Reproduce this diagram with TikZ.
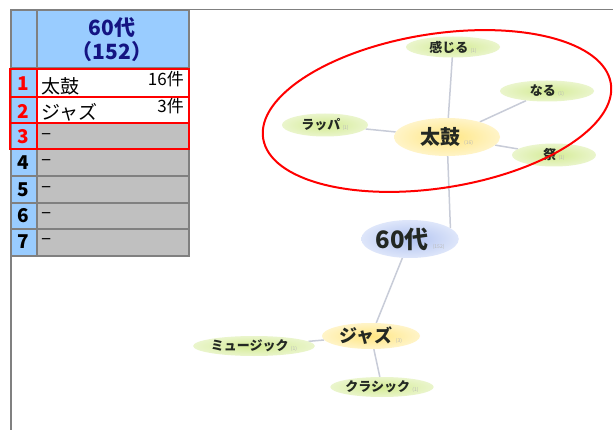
\documentclass[tikz,border=0pt]{standalone}
\usepackage{fontspec}
\setmainfont{Noto Sans CJK JP}
\usetikzlibrary{shapes.geometric}
\pgfdeclarelayer{bg}
\pgfsetlayers{bg,main}
\definecolor{hdrblue}{RGB}{153,204,255}
\definecolor{cellgray}{RGB}{192,192,192}
\definecolor{gridgray}{RGB}{128,128,128}
\definecolor{navy}{RGB}{20,20,130}
\definecolor{edgec}{RGB}{200,204,216}
\definecolor{gin}{RGB}{212,235,148}
\definecolor{gout}{RGB}{234,245,204}
\definecolor{yin}{RGB}{255,230,130}
\definecolor{yout}{RGB}{255,244,200}
\definecolor{bin}{RGB}{176,194,240}
\definecolor{bout}{RGB}{222,230,250}
\definecolor{nodetext}{RGB}{35,40,35}
\definecolor{cnt}{RGB}{185,185,185}
\begin{document}
\begin{tikzpicture}[x=1pt,y=-1pt,
  grid/.style={draw=gridgray,line width=1.5pt},
  redbox/.style={draw=red,line width=1.6pt},
  numtxt/.style={font=\bfseries\fontsize{19}{19}\selectfont,inner sep=0pt},
  celltxt/.style={font=\fontsize{19}{19}\selectfont,inner sep=0pt,anchor=west},
  cnttxt/.style={font=\fontsize{17}{17}\selectfont,inner sep=0pt,anchor=north east},
  leaf/.style={ellipse,inner color=gin,outer color=gout,minimum width=88pt,minimum height=21pt,inner sep=0pt,
     font=\bfseries\fontsize{13}{13}\selectfont,text=nodetext},
  mid/.style={ellipse,inner color=yin,outer color=yout,minimum width=100pt,minimum height=36pt,inner sep=0pt,
     font=\bfseries\fontsize{20}{20}\selectfont,text=nodetext},
  rootn/.style={ellipse,inner color=bin,outer color=bout,minimum width=90pt,minimum height=38pt,inner sep=0pt,
     font=\bfseries\fontsize{24}{24}\selectfont,text=nodetext},
  link/.style={draw=edgec,line width=1.5pt}]
\newcommand{\cntt}[1]{\,{\fontsize{5}{5}\selectfont\mdseries\color{cnt}(#1)}}
\useasboundingbox (0,0) rectangle (613,430);
\begin{pgfonlayer}{bg}
\fill[white] (0,0) rectangle (613,430);
\end{pgfonlayer}
% outer frame
\draw[grid] (11,430) -- (11,9.5) -- (613,9.5);
% table fills
\fill[hdrblue] (11,10) rectangle (189,68);
\fill[hdrblue] (11,68) rectangle (37,256);
\fill[white] (37,68) rectangle (189,123);
\fill[cellgray] (37,123) rectangle (189,256);
% grid lines
\draw[grid] (11,10) rectangle (189,256);
\draw[grid] (37,10) -- (37,256);
\foreach \yy in {68,97,123,149,176,203,229} \draw[grid] (11,\yy) -- (189,\yy);
% red boxes rows 1-3
\draw[redbox] (10,69) rectangle (189,97);
\draw[redbox] (10,97) rectangle (189,123);
\draw[redbox] (10,123) rectangle (189,149);
\draw[redbox] (37,69) -- (37,149);
% header
\node[font=\bfseries\fontsize{21}{24}\selectfont,text=navy,align=center] (hdr) at (112,40) {60代\\（152）};
% row numbers
\node[numtxt,text=red] (n1) at (23,84) {1};
\node[numtxt,text=red] (n2) at (23,111) {2};
\node[numtxt,text=red] (n3) at (23,137) {3};
\node[numtxt] (n4) at (23,163) {4};
\node[numtxt] (n5) at (23,190) {5};
\node[numtxt] (n6) at (23,216) {6};
\node[numtxt] (n7) at (23,242) {7};
% cells
\node[celltxt] (c1) at (41,86) {太鼓};
\node[cnttxt] (k1) at (184,71) {16件};
\node[celltxt] (c2) at (41,112) {ジャズ};
\node[cnttxt] (k2) at (184,98) {3件};
\node[celltxt] (c3) at (41,137) {–};
\node[celltxt] (c4) at (41,163) {–};
\node[celltxt] (c5) at (41,190) {–};
\node[celltxt] (c6) at (41,216) {–};
\node[celltxt] (c7) at (41,242) {–};
% mind map nodes
\node[rootn] (root) at (410,239) {60代\cntt{152}};
\node[mid,minimum width=106pt,minimum height=38pt] (taiko) at (447,137) {太鼓\cntt{16}};
\node[mid,minimum width=98pt,minimum height=26pt,font=\bfseries\fontsize{18}{18}\selectfont] (jazz) at (371,336) {ジャズ\cntt{3}};
\node[leaf,minimum width=94pt] (kanjiru) at (453,47) {感じる\cntt{1}};
\node[leaf,minimum width=94pt] (naru) at (547,91) {なる\cntt{1}};
\node[leaf,minimum width=84pt,minimum height=23pt] (matsuri) at (554,155) {祭\cntt{1}};
\node[leaf,minimum width=86pt,minimum height=23pt] (rappa) at (325,125) {ラッパ\cntt{1}};
\node[leaf,minimum width=100pt,minimum height=20pt] (music) at (254,346) {ミュージック\cntt{1}};
\node[leaf,minimum width=92pt,minimum height=20pt] (classic) at (382,387) {クラシック\cntt{1}};
% connectors (behind nodes)
\begin{pgfonlayer}{bg}
\draw[link] (taiko.center) -- (root.15);
\draw[link] (taiko.center) -- (kanjiru.center);
\draw[link] (taiko) -- (naru);
\draw[link] (taiko) -- (matsuri);
\draw[link] (taiko) -- (rappa);
\draw[link] (root) -- (jazz);
\draw[link] (jazz) -- (music);
\draw[link] (jazz) -- (classic);
\end{pgfonlayer}
% red annotation ellipse
\draw[red,line width=2pt,rotate around={9:(437,111)}] (437,111) ellipse [x radius=176, y radius=77];
\end{tikzpicture}
\end{document}
